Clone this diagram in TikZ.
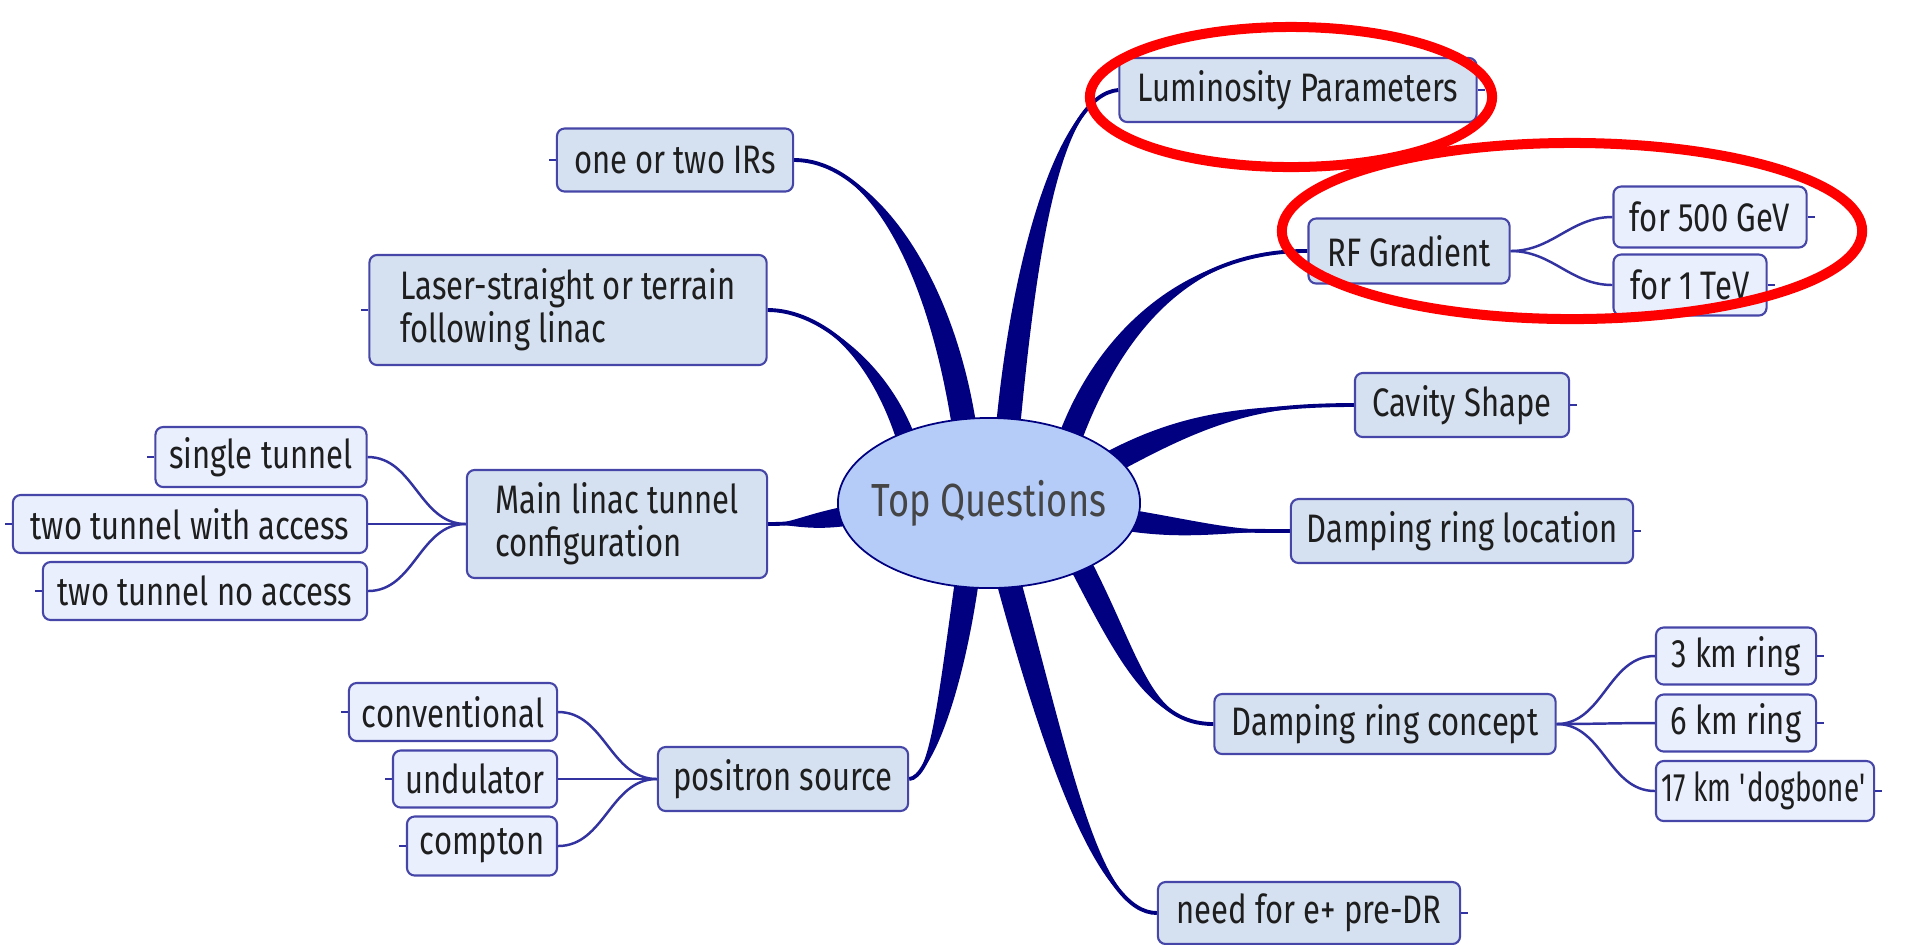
\documentclass[tikz,border=0pt]{standalone}
\usepackage{fontspec}
\setmainfont{Fira Sans}[FakeStretch=0.78]
\newfontfamily\narrowfont{Fira Sans}[FakeStretch=0.70]
\usetikzlibrary{calc,backgrounds,shapes.geometric}

\definecolor{branchblue}{HTML}{000080}
\definecolor{twigblue}{HTML}{3232A0}
\definecolor{boxline}{HTML}{4646A8}
\definecolor{mainfill}{HTML}{D5E1F0}
\definecolor{leaffill}{HTML}{E9EFFD}
\definecolor{hubfill}{HTML}{B5CCF9}
\definecolor{textgray}{HTML}{1E1E1E}
\definecolor{hubtext}{HTML}{454545}
\definecolor{markred}{HTML}{FF0000}

% tapered main branch: start, half width, first control, second control, end
\newcommand{\branch}[5]{%
  \fill[branchblue] ($#1+#2$) .. controls ($#3+#2$) and #4 .. #5
    .. controls #4 and ($#3-#2$) .. ($#1-#2$) -- cycle;
  \draw[branchblue, line width=1.1pt] #1 .. controls #3 and #4 .. #5;}

\begin{document}
\begin{tikzpicture}[x=0.01cm, y=-0.01cm,
  topic/.style={draw=boxline, line width=0.6pt, rounded corners=2.2pt, fill=mainfill,
    text=textgray, font=\fontsize{11.3}{12.2}\selectfont, inner sep=0pt, align=left},
  leaf/.style={topic, fill=leaffill},
  twig/.style={draw=twigblue, line width=0.7pt},
  ring/.style={draw=markred, line width=0.1cm}]
  \useasboundingbox (0,0) rectangle (1912,944);

  % centre
  \node[ellipse, draw=branchblue, line width=0.5pt, fill=hubfill, minimum width=3.02cm,
    minimum height=1.70cm, inner xsep=-8pt, inner ysep=0pt, text=hubtext,
    font=\fontsize{13.2}{15}\selectfont] (top) at (989,503) {Top Questions};

  % main topics
  \node[topic, minimum width=3.57cm, minimum height=0.64cm] (lum) at (1298,90) {Luminosity Parameters};
  \node[topic, minimum width=2.36cm, minimum height=0.63cm] (irs) at (675,160) {one or two IRs};
  \node[topic, minimum width=3.97cm, minimum height=1.10cm] (laser) at (568,310) {Laser-straight or terrain\\following linac};
  \node[topic, minimum width=2.01cm, minimum height=0.65cm] (rf) at (1409,251) {RF Gradient};
  \node[topic, minimum width=2.14cm, minimum height=0.64cm] (cavity) at (1462,405) {Cavity Shape};
  \node[topic, minimum width=3.42cm, minimum height=0.64cm] (drloc) at (1462,531) {Damping ring location};
  \node[topic, minimum width=3.41cm, minimum height=0.60cm] (drcon) at (1385,724) {Damping ring concept};
  \node[topic, minimum width=3.02cm, minimum height=0.62cm] (pre) at (1309,913) {need for e+ pre-DR};
  \node[topic, minimum width=2.50cm, minimum height=0.64cm] (pos) at (783,779) {positron source};
  \node[topic, minimum width=3.00cm, minimum height=1.08cm] (linac) at (617,524) {Main linac tunnel\\configuration};

  % sub topics
  \node[leaf, minimum width=1.93cm, minimum height=0.61cm] (gev) at (1710,217) {for 500 GeV};
  \node[leaf, minimum width=1.53cm, minimum height=0.61cm] (tev) at (1690,285) {for 1 TeV};
  \node[leaf, minimum width=1.60cm, minimum height=0.57cm] (km3) at (1736,656) {3 km ring};
  \node[leaf, minimum width=1.60cm, minimum height=0.57cm] (km6) at (1736,723) {6 km ring};
  \node[leaf, minimum width=2.18cm, minimum height=0.60cm] (km17) at (1765,791) {\narrowfont 17 km \textquotesingle dogbone\textquotesingle};
  \node[leaf, minimum width=2.08cm, minimum height=0.58cm] (conv) at (453,712) {conventional};
  \node[leaf, minimum width=1.64cm, minimum height=0.57cm] (und) at (475,779) {undulator};
  \node[leaf, minimum width=1.50cm, minimum height=0.59cm] (comp) at (482,846) {compton};
  \node[leaf, minimum width=2.11cm, minimum height=0.60cm] (single) at (261,457) {single tunnel};
  \node[leaf, minimum width=3.54cm, minimum height=0.58cm] (withacc) at (190,524) {two tunnel with access};
  \node[leaf, minimum width=3.24cm, minimum height=0.58cm] (noacc) at (205,591) {two tunnel no access};

  % thick branches, under the centre
  \begin{scope}[on background layer]
    \foreach \a/\n in {76/1,108/2,143/3,38/4,18/5,-7/6,-33/7,-76/8,-106/9,185/10}
      \coordinate (s\n) at ($(top.center)!0.9!(top.\a)$);
    \branch{(s1)}{(12,1)}{(1025,250)}{(1060,95)}{(lum.west)}
    \branch{(s2)}{(12,-2)}{(940,270)}{(870,160)}{(irs.east)}
    \branch{(s3)}{(11,3)}{(880,360)}{(820,310)}{(laser.east)}
    \branch{(s4)}{(11,4)}{(1110,330)}{(1190,250)}{(rf.west)}
    \branch{(s5)}{(6,10)}{(1190,420)}{(1250,405)}{(cavity.west)}
    \branch{(s6)}{(0,11)}{(1190,530)}{(1230,531)}{(drloc.west)}
    \branch{(s7)}{(11,-3)}{(1130,660)}{(1150,724)}{(drcon.west)}
    \branch{(s8)}{(12,-2)}{(1060,770)}{(1100,913)}{(pre.west)}
    \branch{(s9)}{(12,0)}{(950,700)}{(930,778)}{(pos.east)}
    \branch{(s10)}{(0,10)}{(810,522)}{(790,524)}{(linac.east)}
  \end{scope}

  % thin branches
  \foreach \n in {gev,tev} \draw[twig] (rf.east) to[out=0,in=180] (\n.west);
  \foreach \n in {km3,km6,km17} \draw[twig] (drcon.east) to[out=0,in=180] (\n.west);
  \foreach \n in {single,withacc,noacc} \draw[twig] (linac.west) to[out=180,in=0] (\n.east);
  \foreach \n in {conv,und,comp} \draw[twig] (pos.west) to[out=180,in=0] (\n.east);

  % little stubs
  \foreach \n in {lum,cavity,drloc,pre,gev,tev,km3,km6,km17} \draw[twig] (\n.east) -- ++(7,0);
  \foreach \n in {irs,laser,single,withacc,noacc,conv,und,comp} \draw[twig] (\n.west) -- ++(-7,0);

  % red marks
  \draw[ring] (1291,97) ellipse [x radius=2.01cm, y radius=0.70cm];
  \draw[ring] (1572,231) ellipse [x radius=2.90cm, y radius=0.88cm];
\end{tikzpicture}
\end{document}
